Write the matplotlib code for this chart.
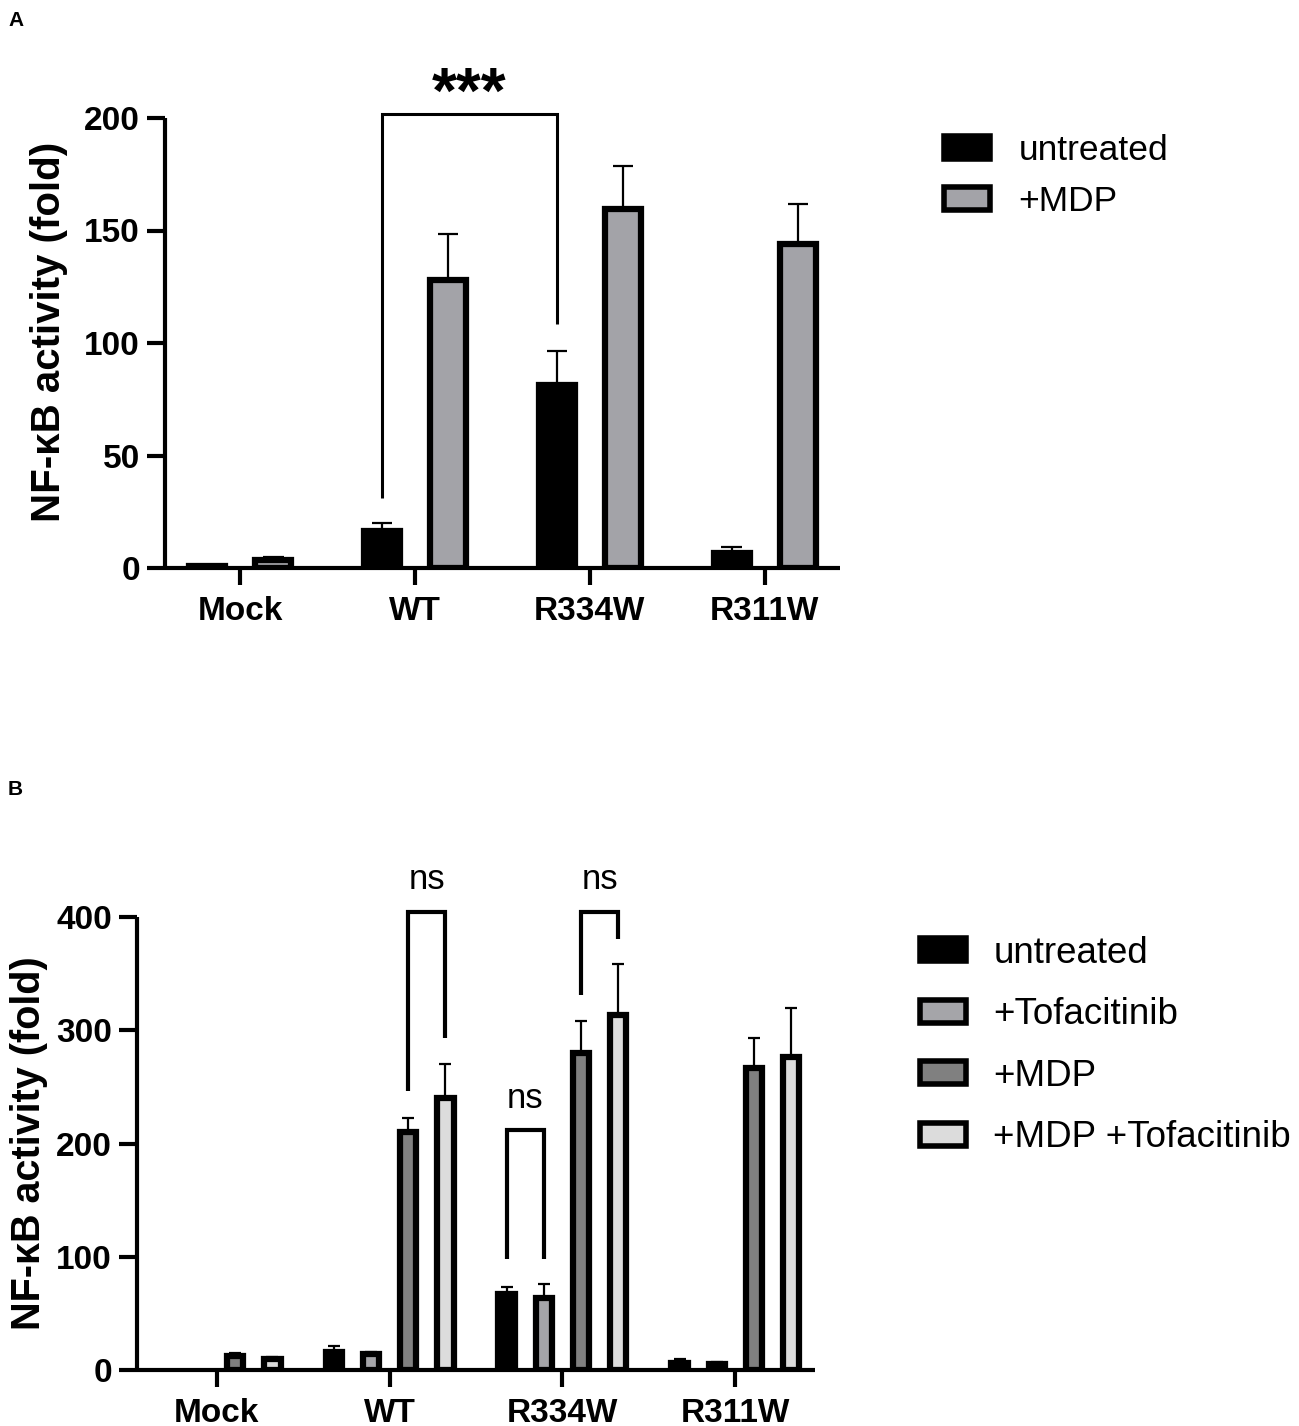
import matplotlib
matplotlib.use("Agg")
import matplotlib.pyplot as plt
import numpy as np
from matplotlib.patches import Patch

plt.rcParams['font.family'] = ['Liberation Sans', 'DejaVu Sans']

groups = ["Mock", "WT", "R334W", "R311W"]

# Panel A
a_series = ["untreated", "+MDP"]
a_untreated = [1.0, 16.5, 81.5, 6.8]
a_untreated_err = [0.0, 3.3, 15.0, 2.4]
a_mdp = [3.6, 128.0, 159.6, 144.0]
a_mdp_err = [1.4, 20.5, 19.0, 17.7]

# Panel B
b_series = ["untreated", "+Tofacitinib", "+MDP", "+MDP +Tofacitinib"]
b_untreated = [0.0, 16.0, 67.0, 6.5]
b_untreated_err = [0.0, 5.5, 6.0, 2.8]
b_tofa = [0.0, 14.0, 64.0, 5.7]
b_tofa_err = [0.0, 2.0, 11.5, 1.5]
b_mdp = [12.7, 210.0, 280.0, 267.0]
b_mdp_err = [2.5, 12.5, 28.5, 26.5]
b_mdptofa = [10.0, 240.0, 313.5, 276.0]
b_mdptofa_err = [1.3, 30.0, 45.0, 43.5]

fig = plt.figure(figsize=(12.99, 14.26), dpi=100)

def style_axes(ax, ymax, yticks):
    for s in ['top', 'right']:
        ax.spines[s].set_visible(False)
    for s in ['left', 'bottom']:
        ax.spines[s].set_linewidth(3.0)
        ax.spines[s].set_capstyle('butt')
    ax.spines['left'].set_bounds(0, ymax)
    ax.set_ylim(0, ymax)
    ax.set_yticks(yticks)
    ax.tick_params(axis='y', length=13, width=3.0, pad=5, labelsize=24)
    ax.tick_params(axis='x', length=12, width=3.0, pad=8, labelsize=24)
    for lbl in ax.get_yticklabels() + ax.get_xticklabels():
        lbl.set_fontweight('bold')

def bracket(ax, x1, x2, ytop, yl, yr, lw):
    ax.plot([x1, x1, x2, x2], [yl, ytop, ytop, yr], color='black', lw=lw,
            clip_on=False, solid_joinstyle='miter', solid_capstyle='butt')

def upper_err(ax, pos, vals, errs, gap, capw, lw=1.6):
    pos = np.asarray(pos); vals = np.asarray(vals); errs = np.asarray(errs)
    m = errs > 0
    ax.vlines(pos[m], vals[m] + gap, vals[m] + errs[m], colors='black',
              linewidth=lw, zorder=1)
    ax.hlines(vals[m] + errs[m], pos[m] - capw, pos[m] + capw, colors='black',
              linewidth=lw, zorder=1)

# ---------------- Panel A ----------------
axA = fig.add_axes([165/1299, 858/1426, 675/1299, 450/1426])
x = np.arange(len(groups))
offA = 0.19
wA = 0.205
colsA = ['#000000', '#a3a3a8']
dataA = [(a_untreated, a_untreated_err), (a_mdp, a_mdp_err)]
for i, (vals, errs) in enumerate(dataA):
    pos = x + (i - 0.5) * 2 * offA
    axA.bar(pos, vals, width=wA, color=colsA[i], edgecolor='black',
            linewidth=4.5, zorder=2)
    upper_err(axA, pos, vals, errs, 1.0, 0.058)
axA.set_xlim(-0.43, 3.43)
axA.set_xticks(x)
axA.set_xticklabels(groups)
style_axes(axA, 200, [0, 50, 100, 150, 200])
axA.set_ylabel("NF-κB activity (fold)", fontsize=29, fontweight='bold')
axA.yaxis.set_label_coords(-0.143, 0.524)
bracket(axA, 1 - offA, 2 - offA, 202, 31, 108.5, 2.2)
axA.text(1.5 - offA, 210, "***", ha='center', va='center', fontsize=46,
         fontweight='bold')
handlesA = [Patch(facecolor=c, edgecolor='black', linewidth=4.0) for c in colsA]
fig.legend(handlesA, a_series, loc='upper left',
           bbox_to_anchor=(930/1299, 1 - 120/1426), frameon=False,
           fontsize=25.5, handlelength=1.3, handleheight=0.6,
           handletextpad=0.8, labelspacing=0.5, borderaxespad=0)

fig.text(8/1299, 1 - 20/1426, "A", fontsize=15, fontweight='bold', va='center')

# ---------------- Panel B ----------------
axB = fig.add_axes([137/1299, 56/1426, 678/1299, 453/1426])
offB = 0.215
wB = 0.095
colsB = ['#000000', '#a5a5a9', '#808080', '#dcdcdc']
dataB = [(b_untreated, b_untreated_err), (b_tofa, b_tofa_err),
         (b_mdp, b_mdp_err), (b_mdptofa, b_mdptofa_err)]
for i, (vals, errs) in enumerate(dataB):
    pos = x + (i - 1.5) * offB
    v = np.array(vals)
    mask = v > 0
    axB.bar(pos[mask], v[mask], width=wB, color=colsB[i], edgecolor='black',
            linewidth=4.5, zorder=2)
    upper_err(axB, pos, vals, errs, 2.0, 0.034)
axB.set_xlim(-0.46, 3.46)
axB.set_xticks(x)
axB.set_xticklabels(groups)
style_axes(axB, 400, [0, 100, 200, 300, 400])
axB.set_ylabel("NF-κB activity (fold)", fontsize=28.5, fontweight='bold', labelpad=6)

bracket(axB, 1 + 0.5 * offB, 1 + 1.5 * offB, 404, 246, 293, 3.0)
axB.text(1 + offB, 433, "ns", ha='center', va='center', fontsize=25)
bracket(axB, 2 - 1.5 * offB, 2 - 0.5 * offB, 212, 98, 98, 3.0)
axB.text(2 - offB, 240, "ns", ha='center', va='center', fontsize=25)
bracket(axB, 2 + 0.5 * offB, 2 + 1.5 * offB, 404, 331, 381, 3.0)
axB.text(2 + offB, 433, "ns", ha='center', va='center', fontsize=25)

handlesB = [Patch(facecolor=c, edgecolor='black', linewidth=4.0) for c in colsB]
fig.legend(handlesB, b_series, loc='upper left',
           bbox_to_anchor=(905/1299, 1 - 921/1426), frameon=False,
           fontsize=26.5, handlelength=1.25, handleheight=0.58,
           handletextpad=0.75, labelspacing=0.72, borderaxespad=0)

fig.text(8/1299, 1 - 790/1426, "B", fontsize=15, fontweight='bold', va='center')

fig.savefig("out.png", dpi=100)
